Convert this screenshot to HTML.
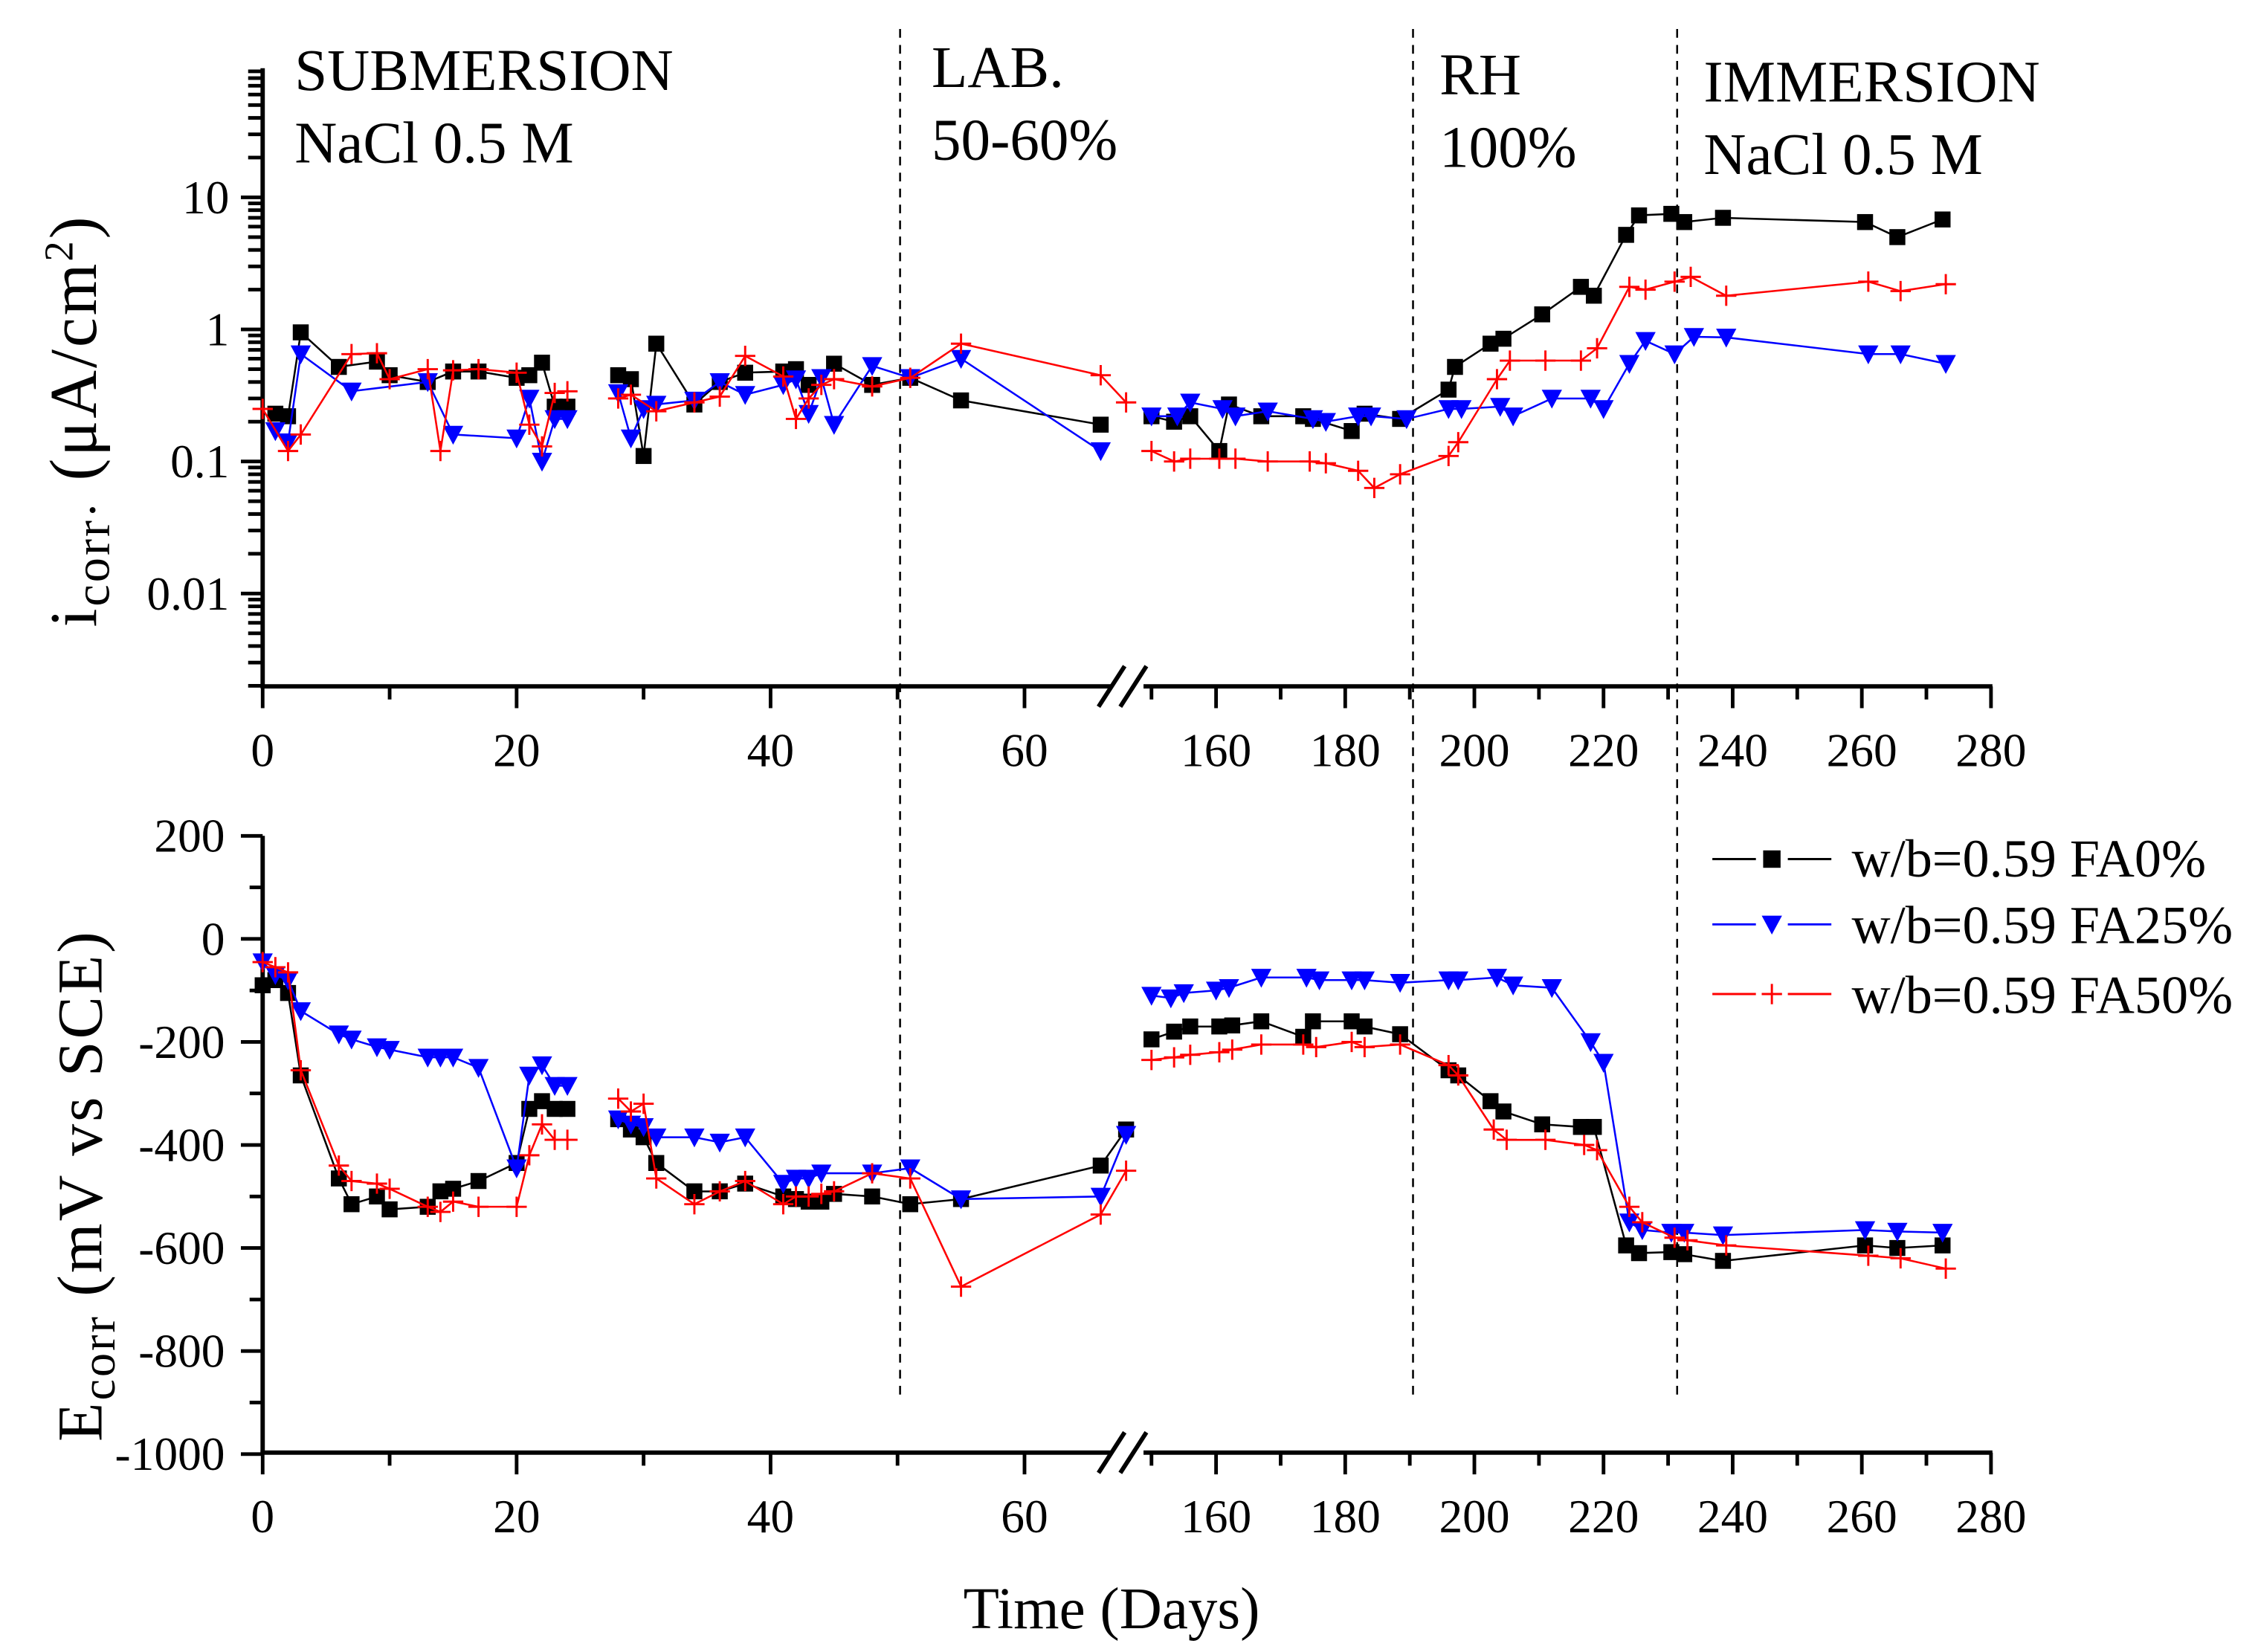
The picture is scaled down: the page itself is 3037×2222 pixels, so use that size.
<!DOCTYPE html>
<html><head><meta charset="utf-8"><style>html,body{margin:0;padding:0;background:#fff}svg{display:block}</style></head>
<body>
<svg id="chart" xmlns="http://www.w3.org/2000/svg" width="3037" height="2222" viewBox="0 0 1556 1138.4" preserveAspectRatio="none" font-family="'Liberation Serif', serif">
<rect width="1556" height="1139" fill="#fff"/>
<g id="axes"></g>
<g id="marks"></g>
<g font-size="40.5" fill="#000">
<text x="203" y="62">SUBMERSION</text>
<text x="203" y="112">NaCl 0.5 M</text>
<text x="642" y="60">LAB.</text>
<text x="642" y="110">50-60%</text>
<text x="992" y="65">RH</text>
<text x="992" y="115">100%</text>
<text x="1174" y="70">IMMERSION</text>
<text x="1174" y="120">NaCl 0.5 M</text>
</g>
<text x="766" y="1122" font-size="40.5" text-anchor="middle">Time (Days)</text>
<text transform="translate(66,290) rotate(-90)" font-size="46" text-anchor="middle" letter-spacing="1.5">i<tspan font-size="34" dy="9">corr·</tspan><tspan dy="-9"> (μA/cm</tspan><tspan font-size="28" dy="-16">2</tspan><tspan dy="16">)</tspan></text>
<text transform="translate(70,817) rotate(-90)" font-size="44" text-anchor="middle" letter-spacing="1.5">E<tspan font-size="33" dy="9">corr</tspan><tspan dy="-9"> (mV vs  SCE)</tspan></text>
<g font-size="37">
<g><path d="M1180,592 H1210 M1232,592 H1262" stroke="#000" stroke-width="1.5"/><rect x="1215" y="586" width="12" height="12" fill="#000"/><text x="1276" y="604">w/b=0.59 FA0%</text></g>
<g><path d="M1180,637 H1210 M1232,637 H1262" stroke="#00f" stroke-width="1.5"/><path d="M1214,631 L1228,631 L1221,644 Z" fill="#00f"/><text x="1276" y="650">w/b=0.59 FA25%</text></g>
<g><path d="M1180,685 H1210 M1232,685 H1262" stroke="#f00" stroke-width="1.5"/><path d="M1214,685 h14 M1221,678 v14" stroke="#f00" stroke-width="1.5"/><text x="1276" y="698">w/b=0.59 FA50%</text></g>
</g>
<script>
// ---- data ----
const icDays0 = [1,2,3,6,9,10,13,15,17,20,21,22,23,24,null,28,29,30,31,34,36,38,41,42,43,45,48,51,55,66,null,150,153.5,156,160.5,162,167,173.5,175,181,183,188.5,196,197,202.5,204.5,210.5,216.5,218.5,223.5,225.5,230.5,232.5,238.5,260.5,265.5,272.5];
const icFA0 = [0.23,0.22,0.95,0.52,0.57,0.45,0.4,0.48,0.48,0.43,0.45,0.56,0.26,0.26,null,0.45,0.42,0.11,0.78,0.27,0.4,0.47,0.48,0.5,0.38,0.55,0.38,0.43,0.29,0.19,null,0.22,0.2,0.22,0.12,0.27,0.22,0.22,0.21,0.17,0.23,0.21,0.35,0.52,0.78,0.85,1.3,2.1,1.8,5.2,7.3,7.5,6.5,7.0,6.5,5.0,6.8];
const icDays25 = [1,2,3,7,13,15,20,21,22,23,24,null,28,29,30,31,34,36,38,41,42,43,44,45,48,51,55,66,null,150,154,156,161,163,168,175,177,182,184,189.5,196,198,204,206,212,218,220,224,226.5,231,234,239,261,266,273];
const icFA25 = [0.17,0.14,0.65,0.34,0.4,0.16,0.15,0.3,0.1,0.21,0.21,null,0.33,0.15,0.25,0.27,0.29,0.4,0.32,0.38,0.42,0.23,0.43,0.19,0.53,0.43,0.6,0.12,null,0.22,0.22,0.28,0.25,0.22,0.24,0.21,0.2,0.22,0.22,0.21,0.25,0.25,0.26,0.22,0.3,0.3,0.25,0.55,0.82,0.65,0.88,0.87,0.65,0.65,0.55];
const icDays50 = [0,2,3,7,9,10,13,14,15,17,20,21,22,23,24,null,28,29,31,34,36,38,41,42,43,44,45,48,51,55,66,68,null,150,153.5,156,160.5,163,168,174.5,177,182,184.5,188.5,196,197.5,203.5,205.5,211,216.5,219,224,226.5,231,233.5,239,261,266,273];
const icFA50 = [0.25,0.12,0.16,0.65,0.66,0.42,0.5,0.12,0.49,0.5,0.47,0.19,0.13,0.33,0.34,null,0.3,0.32,0.24,0.28,0.31,0.63,0.44,0.21,0.3,0.38,0.42,0.37,0.43,0.78,0.45,0.28,null,0.12,0.1,0.105,0.105,0.105,0.1,0.1,0.097,0.085,0.063,0.08,0.11,0.14,0.42,0.58,0.58,0.58,0.72,2.1,2.0,2.3,2.5,1.8,2.3,1.95,2.2];
const eDays0 = [0,1,2,3,6,7,9,10,13,14,15,17,20,21,22,23,24,null,28,29,30,31,34,36,38,41,42,43,44,45,48,51,55,66,68,null,150,153.5,156,160.5,162.5,167,173.5,175,181,183,188.5,196,197.5,202.5,204.5,210.5,216.5,218.5,223.5,225.5,230.5,232.5,238.5,260.5,265.5,272.5];
const eFA0 = [-90,-80,-105,-265,-465,-515,-500,-525,-520,-490,-485,-470,-435,-330,-315,-330,-330,null,-350,-370,-385,-435,-490,-490,-475,-500,-505,-510,-510,-495,-500,-515,-505,-440,-370,null,-195,-180,-170,-170,-168,-160,-190,-160,-160,-170,-185,-255,-265,-315,-335,-360,-365,-365,-595,-610,-608,-612,-625,-595,-600,-595];
const eDays25 = [0,1,2,3,6,7,9,10,13,14,15,17,20,21,22,23,24,null,28,29,30,31,34,36,38,41,42,43,44,48,51,55,66,68,null,150,153,155,160,162,167,174,176,181,183,188.5,196,197.5,203.5,206,212,218,220,224,226,230.5,232.5,238.5,260.5,265.5,272.5];
const eFA25 = [-45,-70,-80,-140,-185,-195,-210,-215,-230,-230,-230,-250,-445,-265,-245,-285,-285,null,-350,-360,-365,-385,-385,-395,-385,-475,-465,-465,-455,-455,-445,-505,-500,-380,null,-110,-115,-105,-100,-95,-75,-75,-80,-80,-80,-85,-80,-80,-75,-90,-95,-200,-240,-550,-565,-570,-570,-575,-565,-568,-570];
const eDays50 = [0,1,2,3,6,7,9,10,13,14,15,17,20,21,22,23,24,null,28,29,30,31,34,36,38,41,42,43,44,45,48,51,55,66,68,null,150,153.5,156,160.5,162.5,167,173.5,175.5,181,183,188.5,196,197.5,203,205,211,217,219,224,226,231,233,239,261,266,273];
const eFA50 = [-45,-55,-65,-255,-440,-470,-475,-485,-520,-530,-510,-520,-520,-420,-360,-390,-390,null,-310,-335,-320,-465,-515,-490,-470,-515,-500,-500,-495,-490,-455,-465,-675,-535,-450,null,-235,-230,-225,-220,-215,-205,-205,-210,-200,-210,-205,-245,-265,-370,-390,-390,-400,-410,-520,-550,-580,-585,-595,-615,-620,-640];
const xTickLabels = ["0","20","40","60","160","180","200","220","240","260","280"];
const xTickDays = [0,20,40,60,160,180,200,220,240,260,280];
const icTicks = [10,1,0.1,0.01];
const icTickLabels = ["10","1","0.1","0.01"];
const eTicks = [200,0,-200,-400,-600,-800,-1000];
const phaseDays = [50.2,190.5,231.4];

// ---- scales ----
const NS='http://www.w3.org/2000/svg';
function X(d){ return d<=100 ? 181+8.75*d : 1372-4.45*(280-d); }
function YI(v){ return 136 + (1-Math.log10(v))*91; }
function YE(v){ return 647 - v*71/200; }
function mk(tag,attrs,parent){const e=document.createElementNS(NS,tag);for(const k in attrs)e.setAttribute(k,attrs[k]);parent.appendChild(e);return e;}
const axes=document.getElementById('axes'), marks=document.getElementById('marks');

function drawAxes(prefix,yTop,yBot){
  const g=mk('g',{},axes);
  
  
  const yl=mk('line',{x1:181,y1:yTop,x2:181,y2:yBot,stroke:'#000','stroke-width':3},g);
  
  
  const xl1=mk('line',{x1:179.5,y1:yBot,x2:766,y2:yBot,stroke:'#000','stroke-width':3},g);
  
  
  const xl2=mk('line',{x1:788,y1:yBot,x2:1373,y2:yBot,stroke:'#000','stroke-width':3},g);
  
  
  mk('path',{d:`M757,${yBot+14} L775,${yBot-14} M772,${yBot+14} L790,${yBot-14}`,stroke:'#000','stroke-width':3,fill:'none'},g);
  const minors=[10,30,50,150,170,190,210,230,250,270];
  minors.forEach(d=>mk('line',{x1:X(d),y1:yBot,x2:X(d),y2:yBot+9,stroke:'#000','stroke-width':2.5},g));
  xTickDays.forEach((d,i)=>{
    mk('line',{x1:X(d),y1:yBot,x2:X(d),y2:yBot+15,stroke:'#000','stroke-width':2.5},g);
    const t=mk('text',{x:X(d),y:yBot+55,'font-size':32.5,'text-anchor':'middle'},g);
    t.textContent=xTickLabels[i];
    
    
  });
  return g;
}
const gt=drawAxes('top',47,473);
for(let e=-3;e<=1;e++){for(let m=2;m<=9;m++){const v=m*Math.pow(10,e);const y=YI(v);if(y<47||y>473)continue;mk('line',{x1:171,y1:y,x2:181,y2:y,stroke:'#000','stroke-width':2.5},gt);}}
icTicks.forEach((v,i)=>{mk('line',{x1:166,y1:YI(v),x2:181,y2:YI(v),stroke:'#000','stroke-width':2.5},gt);
  const t=mk('text',{x:158,y:YI(v)+11,'font-size':32.5,'text-anchor':'end'},gt);t.textContent=icTickLabels[i];
  
  });
const gb=drawAxes('bottom',576,1001);
for(let v=100;v>-1000;v-=200){mk('line',{x1:172,y1:YE(v),x2:181,y2:YE(v),stroke:'#000','stroke-width':2.5},gb);}
eTicks.forEach(v=>{mk('line',{x1:166,y1:YE(v),x2:181,y2:YE(v),stroke:'#000','stroke-width':2.5},gb);
  const t=mk('text',{x:155,y:YE(v)+11,'font-size':32.5,'text-anchor':'end'},gb);t.textContent=String(v);
  
  });
phaseDays.forEach(d=>{const l=mk('line',{x1:X(d),y1:20,x2:X(d),y2:965,stroke:'#000','stroke-width':1.3,'stroke-dasharray':'6,5'},axes);
  
  });

function series(name,days,vals,ys,color,shape){
  const g=mk('g',{},marks);
  
  
  let d='',pen=false;
  days.forEach((dd,i)=>{ if(dd===null||vals[i]===null){pen=false;return;} d+=(pen?'L':'M')+X(dd).toFixed(1)+','+ys(vals[i]).toFixed(1)+' '; pen=true; });
  mk('path',{d:d,fill:'none',stroke:color,'stroke-width':1.3},g);
  days.forEach((dd,i)=>{ if(dd===null||vals[i]===null)return; const x=X(dd),y=ys(vals[i]); let m;
    if(shape==='sq') m=mk('rect',{x:x-5.5,y:y-5.5,width:11,height:11,fill:color},g);
    else if(shape==='tri') m=mk('path',{d:`M${x-7},${y-6} L${x+7},${y-6} L${x},${y+7} Z`,fill:color},g);
    else m=mk('path',{d:`M${x-7},${y} h14 M${x},${y-7} v14`,stroke:color,'stroke-width':1.5},g);
    
    
  });
}
series('icorr-fa0',icDays0,icFA0,YI,'#000','sq');
series('icorr-fa25',icDays25,icFA25,YI,'#00f','tri');
series('icorr-fa50',icDays50,icFA50,YI,'#f00','plus');
series('ecorr-fa0',eDays0,eFA0,YE,'#000','sq');
series('ecorr-fa25',eDays25,eFA25,YE,'#00f','tri');
series('ecorr-fa50',eDays50,eFA50,YE,'#f00','plus');
</script>
</svg>
</body></html>
